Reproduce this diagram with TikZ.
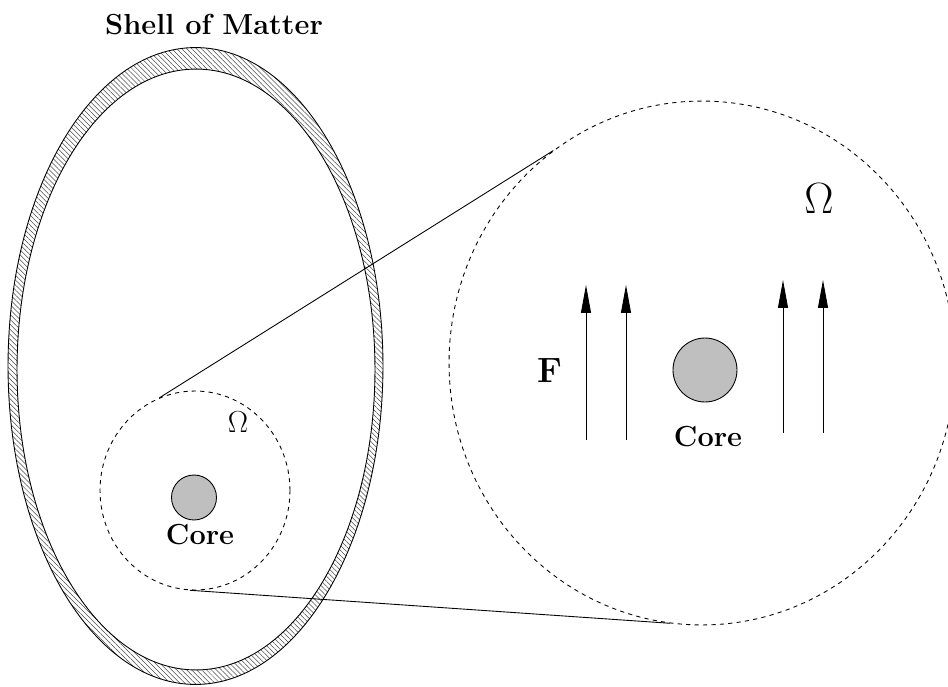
\documentclass[tikz,border=0pt]{standalone}
\usetikzlibrary{positioning,arrows.meta,shapes.geometric,patterns.meta}
\definecolor{coregray}{gray}{0.75}
\tikzset{
  region/.style={ellipse,draw,dash pattern=on 2.4pt off 2.4pt,inner sep=0pt},
  core/.style={circle,draw,fill=coregray,inner sep=0pt},
  lbl/.style={font=\fontsize{16.5}{18}\selectfont\bfseries},
  force/.style={-{Triangle[length=5.6mm,width=2mm]}},
}

\begin{document}
\begin{tikzpicture}[x=0.02cm,y=-0.02cm,line width=0.5pt]
  \useasboundingbox (0,0) rectangle (948,687);
  \fill[pattern={Lines[angle=-45,distance=2pt,line width=0.3pt]},pattern color=black!70,even odd rule]
    (195.5,366) ellipse [x radius=3.75cm,y radius=6.37cm]
    (196,369.5) ellipse [x radius=3.58cm,y radius=6.01cm];
  \draw (195.5,366) ellipse [x radius=3.75cm,y radius=6.37cm];
  \draw (196,369.5) ellipse [x radius=3.58cm,y radius=6.01cm];
  \node[lbl] (shell) at (214,25) {Shell of Matter};
  \node[region,minimum width=3.8cm,minimum height=3.98cm] (small) at (195,490.5) {};
  \node[region,minimum width=10.12cm,minimum height=10.48cm] (big) at (702,363) {};
  \draw (small.111.8) -- (big.125.4);
  \draw (small.267) -- (big.263.7);
  \node[core,minimum size=0.9cm] (coresmall) at (194,497.5) {};
  \node[lbl] (coresmalltxt) at (200,535) {Core};
  \node[font=\fontsize{17.5}{20}\selectfont] (omegasmall) at (238,422) {$\Omega$};
  \node[core,minimum size=1.28cm] (corebig) at (705,370) {};
  \node[lbl] (corebigtxt) at (708,437) {Core};
  \node[font=\fontsize{25}{28}\selectfont] (omegabig) at (819,199) {$\Omega$};
  \node[font=\fontsize{20}{22}\selectfont\bfseries] (forcetxt) at (550,371) {F};
  \foreach \x/\b/\t [count=\i] in {586/440/285,626/440/285,783/433/280,823/433/280} {
    \coordinate (foot\i) at (\x,\b);
    \coordinate (tip\i) at (\x,\t);
    \draw[force] (foot\i) -- (tip\i);
  }
\end{tikzpicture}
\end{document}
